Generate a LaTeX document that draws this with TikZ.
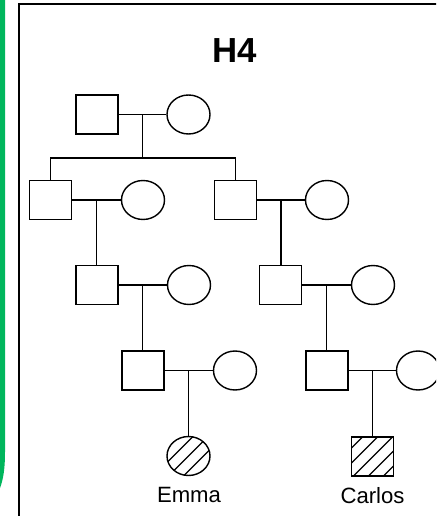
\documentclass[tikz,border=0pt]{standalone}
\usepackage{fontspec}
\setmainfont{Liberation Sans}
\usetikzlibrary{shapes.geometric, calc}
\definecolor{PanelGreen}{HTML}{00B65C}
\tikzset{
    % pedigree symbols
    malebox/.style={
        rectangle,
        draw,
        line width=0.8pt,
        minimum width=0.84cm,
        minimum height=0.78cm,
        inner sep=0pt
    },
    femalebox/.style={
        ellipse,
        draw,
        line width=0.8pt,
        minimum width=0.86cm,
        minimum height=0.78cm,
        inner sep=0pt
    },
    % hatching for affected persons
    affected/.style={
        path picture={
            \foreach \s in {-3,...,3}
                \draw[line width=0.7pt] ([xshift=\s*0.30cm+0.04cm]path picture bounding box.south west) -- ++(1.2cm,1.2cm);
        }
    },
    famline/.style={
        line width=0.8pt
    },
    namelabel/.style={
        anchor=base,
        font=\fontsize{12.6}{14}\selectfont
    }
}

\begin{document}
\begin{tikzpicture}[x=0.02cm, y=-0.02cm]
    \clip (0,0) rectangle (436,516);
    % green tab and panel frame
    \fill[PanelGreen] (0,0) -- (5,0) -- (5,452) .. controls (5,470) and (3,480) .. (0,488) -- cycle;
    \draw[famline] (19,520) -- (19,4) -- (440,4);
    \node[anchor=base, font=\fontsize{19.8}{22}\selectfont\bfseries] (title) at (235,63) {H4};

    % Generation I
    \node[malebox] (m1) at (97,114.5) {};
    \node[femalebox] (f1) at (188.5,114.5) {};
    % Generation II
    \node[malebox] (m2a) at (50.5,200) {};
    \node[femalebox] (f2a) at (143,200) {};
    \node[malebox] (m2b) at (235.5,200) {};
    \node[femalebox] (f2b) at (327,200) {};
    % Generation III
    \node[malebox] (m3a) at (97,285) {};
    \node[femalebox] (f3a) at (189,285) {};
    \node[malebox] (m3b) at (280.5,285) {};
    \node[femalebox] (f3b) at (373,285) {};
    % Generation IV
    \node[malebox] (m4a) at (143,370.5) {};
    \node[femalebox] (f4a) at (235,370.5) {};
    \node[malebox] (m4b) at (327,370.5) {};
    \node[femalebox] (f4b) at (418,370.5) {};
    % Generation V
    \node[femalebox, affected] (emma) at (188.5,456) {};
    \node[malebox, affected] (carlos) at (372.5,456.5) {};
    \node[namelabel] (emmalbl) at (189,502) {Emma};
    \node[namelabel] (carloslbl) at (372.5,503) {Carlos};

    % couples
    \foreach \m/\f/\u in {m1/f1/u1, m2a/f2a/u2a, m2b/f2b/u2b, m3a/f3a/u3a, m3b/f3b/u3b, m4a/f4a/u4a, m4b/f4b/u4b} {
        \draw[famline] (\m) -- (\f);
        \coordinate (\u) at ($(\m.east)!0.5!(\f.west)$);
    }

    % sibship line under generation I
    \draw[famline] (u1) -- ++(0,44.5);
    \draw[famline] (m2a.north) -- ++(0,-22) -| (m2b.north);

    % lines of descent
    \draw[famline] (u2a) -- (u2a |- m3a.north);
    \draw[famline] (u2b) -- (u2b |- m3b.north);
    \draw[famline] (u3a) -- (u3a |- m4a.north);
    \draw[famline] (u3b) -- (u3b |- m4b.north);
    \draw[famline] (u4a) -- (u4a |- emma.north);
    \draw[famline] (u4b) -- (u4b |- carlos.north);
\end{tikzpicture}
\end{document}
